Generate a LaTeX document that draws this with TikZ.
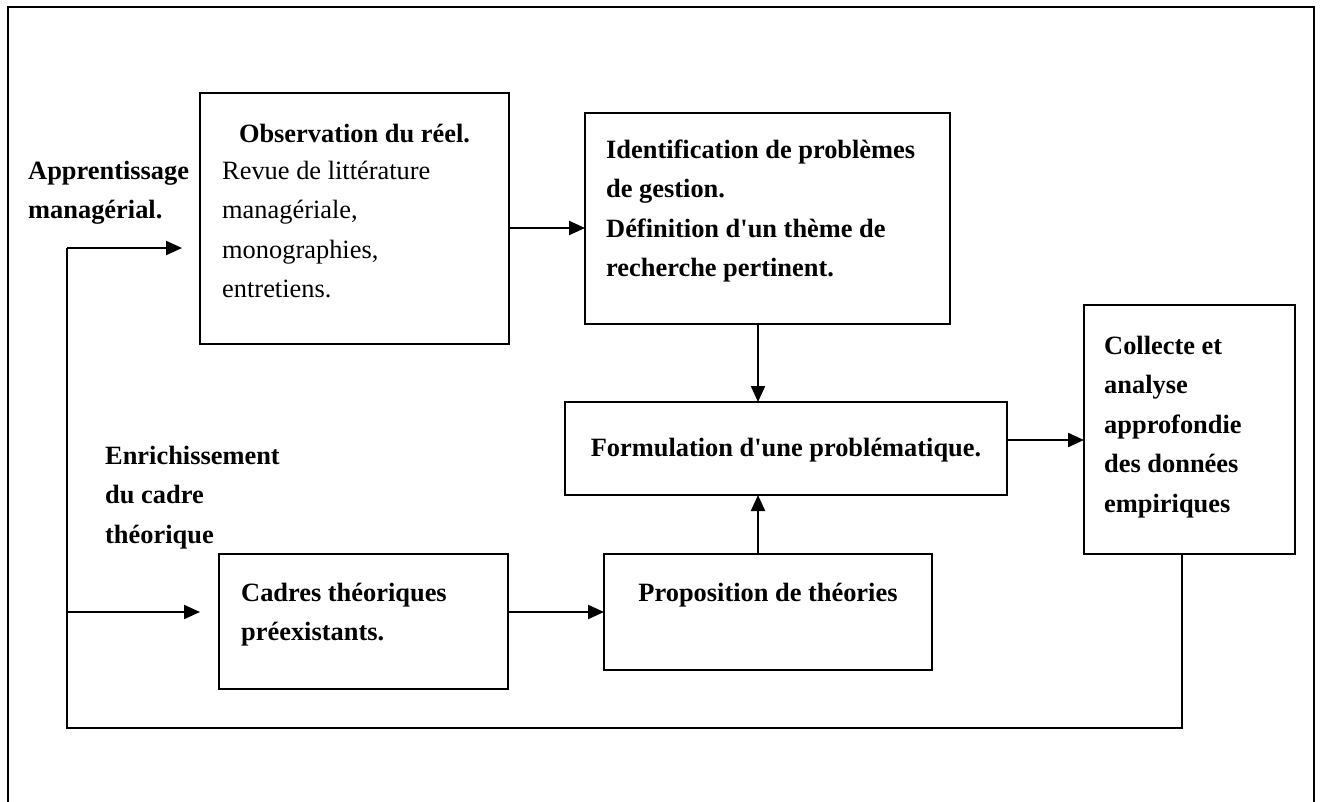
\documentclass[tikz,border=0pt]{standalone}
\usepackage{fontspec}
\setmainfont{Liberation Serif}
\usetikzlibrary{arrows.meta}
\begin{document}
\begin{tikzpicture}[x=1pt,y=-1pt,
  box/.style={draw,line width=1.9pt,inner sep=0pt,outer sep=0pt,anchor=north west},
  txt/.style={inner sep=0pt,anchor=north west,align=left,font=\fontsize{26.4}{39.5}\selectfont\bfseries},
  txtn/.style={inner sep=0pt,anchor=north west,align=left,font=\fontsize{26.4}{39.5}\selectfont},
  arr/.style={line width=2.2pt,-{Triangle[length=16pt,width=14pt]}},
  line/.style={line width=1.9pt}]
\useasboundingbox (0,0) rectangle (1322,801);
\clip (0,0) rectangle (1322,801);
% outer frame
\draw[line] (8,815) -- (8,7) -- (1314,7) -- (1314,815);
% boxes
\node[box,minimum width=309pt,minimum height=251pt] (obs) at (200,93) {};
\node[box,minimum width=365pt,minimum height=211pt] (ident) at (585,113) {};
\node[box,minimum width=442pt,minimum height=93pt] (form) at (565,402) {};
\node[box,minimum width=211pt,minimum height=249pt] (coll) at (1084,305) {};
\node[box,minimum width=289pt,minimum height=135pt] (cad) at (219,554) {};
\node[box,minimum width=328pt,minimum height=116pt] (prop) at (604,554) {};
% texts
\node[txt] (tappr) at (28,151.35) {\strut Apprentissage\\managérial.};
\node[txt,anchor=north] (tobs) at (354.5,114.35) {\strut Observation du réel.};
\node[txtn] (tobsb) at (222,151.35) {\strut Revue de littérature\\managériale,\\monographies,\\entretiens.};
\node[txt] (tident) at (606,130.35) {\strut Identification de problèmes\\de gestion.\\Définition d\textquotesingle un thème de\\recherche pertinent.};
\node[txt,anchor=north] (tform) at (786,428.35) {\strut Formulation d\textquotesingle une problématique.};
\node[txt] (tcoll) at (1104,326.35) {\strut Collecte et\\analyse\\approfondie\\des données\\empiriques};
\node[txt] (tenr) at (105,436.35) {\strut Enrichissement\\du cadre\\théorique};
\node[txt] (tcad) at (241,573.35) {\strut Cadres théoriques\\préexistants.};
\node[txt,anchor=north] (tprop) at (768,573.35) {\strut Proposition de théories};
% connectors
\coordinate (a1) at (0,228);
\coordinate (a2) at (758,0);
\coordinate (a4) at (0,440);
\coordinate (a5) at (0,612);
\coordinate (f1) at (1182,728);
\coordinate (f2) at (67,728);
\coordinate (f3) at (67,248);
\draw[arr] (obs.east |- a1) -- (ident.west |- a1);
\draw[arr] (ident.south -| a2) -- (form.north -| a2);
\draw[arr] (prop.north -| a2) -- (form.south -| a2);
\draw[arr] (form.east |- a4) -- (coll.west |- a4);
\draw[arr] (cad.east |- a5) -- (prop.west |- a5);
\draw[line] (coll.south -| f1) -- (f1) -- (f2) -- (f3);
\draw[arr,shorten >=18pt] (f3) -- (obs.west |- f3);
\draw[arr,shorten >=19pt] (f2 |- a5) -- (cad.west |- a5);
\end{tikzpicture}
\end{document}
